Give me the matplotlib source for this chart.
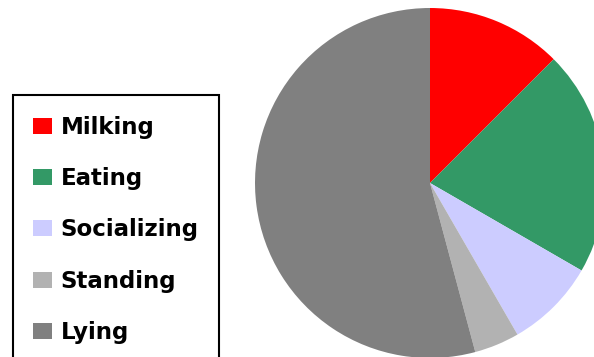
import matplotlib
matplotlib.use('Agg')
import matplotlib.pyplot as plt

# hours of the day spent per activity
activities = ['Milking', 'Eating', 'Socializing', 'Standing', 'Lying']
hours = [3, 5, 2, 1, 13]
colors = ['#FF0000', '#339966', '#CCCCFF', '#B2B2B2', '#808080']

fig = plt.figure(figsize=(5.94, 3.57), dpi=100)
ax = fig.add_axes([0.4293, -0.0028, 0.5892, 0.9804])
wedges, _ = ax.pie(hours, colors=colors, startangle=90, counterclock=False,
                   wedgeprops={'linewidth': 0})
ax.set_xlim(-1, 1); ax.set_ylim(-1, 1)

leg = fig.legend(wedges, activities, loc='upper left',
                 bbox_to_anchor=(0.0214, 0.7339),
                 prop={'weight': 'bold', 'size': 16.5},
                 fancybox=False, edgecolor='black', framealpha=1,
                 handlelength=0.83, handleheight=0.7, handletextpad=0.35,
                 labelspacing=1.24, borderpad=0.9, borderaxespad=0)
leg.get_frame().set_linewidth(1.5)

fig.savefig('out.png', dpi=100)
